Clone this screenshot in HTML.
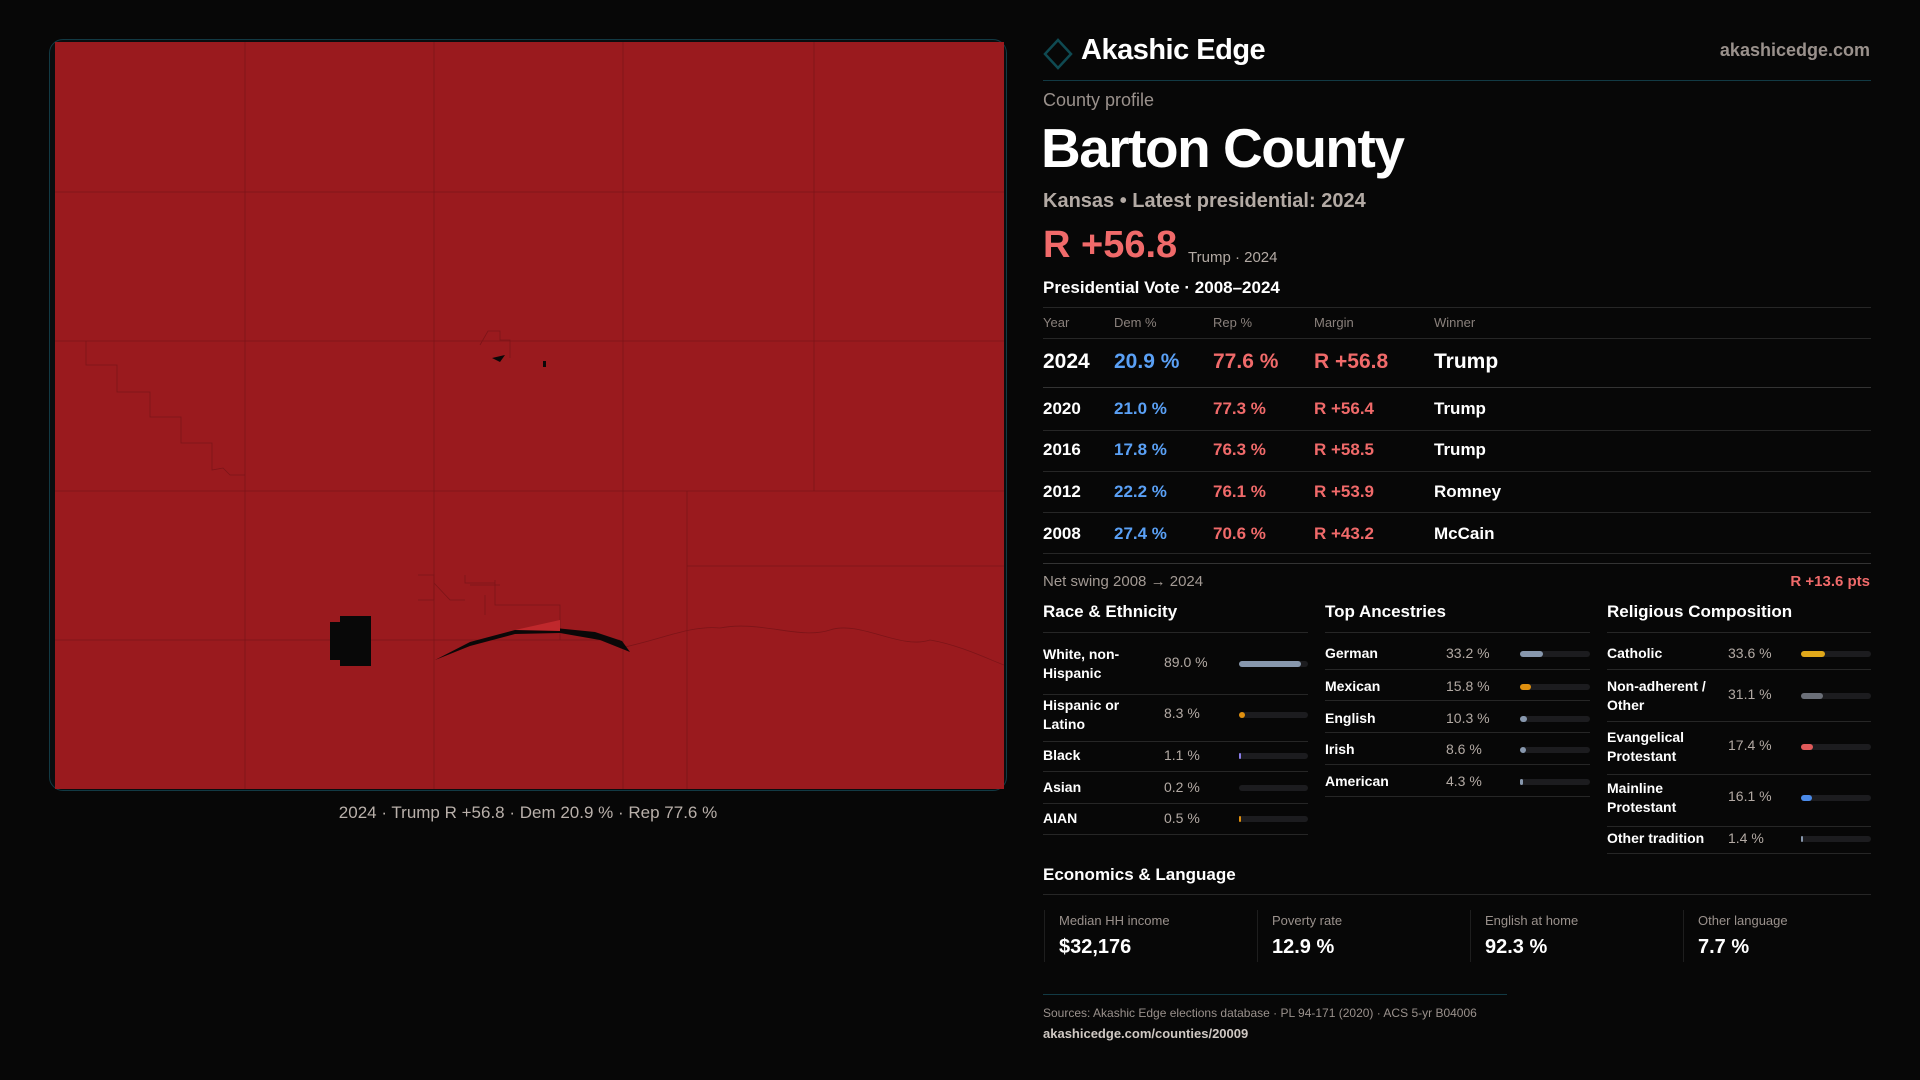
<!DOCTYPE html>
<html><head><meta charset="utf-8"><style>
*{margin:0;padding:0;box-sizing:border-box}
body{width:1920px;height:1080px;background:#070707;font-family:"Liberation Sans",sans-serif;color:#fff;position:relative;overflow:hidden}
.a{position:absolute;white-space:nowrap}
.hr{position:absolute;height:1px;background:#262626}
.g{color:#9a918c}
.bl{color:#5aa0f5}.rd{color:#f06a6a}
.bar{position:absolute;height:6px;border-radius:3px;background:#1c1c1f}
.bar i{position:absolute;left:0;top:0;height:6px;border-radius:3px}
</style></head><body>
<div class="a" style="left:49px;top:39px;width:958px;height:752px;border:1.5px solid #123a44;border-radius:14px;background:#0a0d0f"></div>
<svg class="a" style="left:0;top:0" width="1920" height="1080">
<path d="M55 42 H1004 V789 H55 Z" fill="#9a1a1e"/>
<g stroke="#7c1418" stroke-width="0.8" fill="none">
<path d="M245 42V789M434 42V789M623 42V491M814 42V491M623 491V789M687 491V789M55 192H1004M55 341H1004M55 491H1004M55 640H620M687 566H1004"/>
<path d="M86 341V365H117V392H150V417H181V443H212V470L223 468L230 475H245"/>
<path d="M620 648C660 640 690 625 720 628C760 620 800 640 830 630C860 620 900 650 930 640C960 645 990 660 1004 665"/>
<path d="M418 600H434M418 575H434V600M434 583L450 600H465M465 575V583H495M495 580V605H560V640M470 585H500M485 595V615"/>
<path d="M480 345L488 331H500V340H510V358"/>
</g>
<path d="M330 622H340V616H371V666H340V660H330Z" fill="#080808"/>
<path d="M435 660L470 646L515 634L560 633L600 640L630 652L622 641L595 632L555 628L515 630L470 642Z" fill="#0a0808"/>
<path d="M515 630L560 620L560 631Z" fill="#c0282c"/>
<path d="M492 358L505 355L500 362Z M543 361h3v6h-3z" fill="#0a0808"/>
<polygon points="1058,40 1071,54 1058,68 1045,54" fill="none" stroke="#0f4a52" stroke-width="2.5"/>
</svg>
<div class="a" style="left:0;width:1056px;top:803px;text-align:center;font-size:17px;color:#b9b0aa">2024 · Trump R +56.8 · Dem 20.9 % · Rep 77.6 %</div>

<div class="a" style="left:1081px;top:34px;font-size:29px;font-weight:bold;letter-spacing:-0.5px">Akashic Edge</div>
<div class="a g" style="left:1870px;top:40px;font-size:18px;font-weight:bold;transform:translateX(-100%)">akashicedge.com</div>
<div class="hr" style="left:1043px;width:828px;top:80px;background:#123a44"></div>
<div class="a g" style="left:1043px;top:90px;font-size:18px">County profile</div>
<div class="a" style="left:1041px;top:116px;font-size:55px;font-weight:bold;letter-spacing:-1.5px">Barton County</div>
<div class="a g" style="left:1043px;top:190px;font-size:20px;font-weight:bold;color:#b3aaa4">Kansas • Latest presidential: 2024</div>
<div class="a rd" style="left:1043px;top:224px;font-size:38px;font-weight:bold">R +56.8</div>
<div class="a g" style="left:1188px;top:249px;font-size:15px;color:#b3aaa4">Trump · 2024</div>
<div class="a" style="left:1043px;top:278px;font-size:17px;font-weight:bold">Presidential Vote · 2008–2024</div>
<div class="hr" style="left:1043px;width:828px;top:307px"></div>
<div class="a g" style="left:1043px;top:315px;font-size:13px;color:#8a817c">Year</div>
<div class="a g" style="left:1114px;top:315px;font-size:13px;color:#8a817c">Dem %</div>
<div class="a g" style="left:1213px;top:315px;font-size:13px;color:#8a817c">Rep %</div>
<div class="a g" style="left:1314px;top:315px;font-size:13px;color:#8a817c">Margin</div>
<div class="a g" style="left:1434px;top:315px;font-size:13px;color:#8a817c">Winner</div>
<div class="hr" style="left:1043px;width:828px;top:338px"></div>
<div class="a" style="left:1043px;top:350px;font-size:21px;font-weight:bold">2024</div>
<div class="a bl" style="left:1114px;top:350px;font-size:21px;font-weight:bold">20.9 %</div>
<div class="a rd" style="left:1213px;top:350px;font-size:21px;font-weight:bold">77.6 %</div>
<div class="a rd" style="left:1314px;top:350px;font-size:21px;font-weight:bold">R +56.8</div>
<div class="a" style="left:1434px;top:350px;font-size:21px;font-weight:bold">Trump</div>
<div class="hr" style="left:1043px;width:828px;top:387px;background:#333"></div>

<div class="a" style="left:1043px;top:399px;font-size:17px;font-weight:bold">2020</div><div class="a bl" style="left:1114px;top:399px;font-size:17px;font-weight:bold">21.0 %</div><div class="a rd" style="left:1213px;top:399px;font-size:17px;font-weight:bold">77.3 %</div><div class="a rd" style="left:1314px;top:399px;font-size:17px;font-weight:bold">R +56.4</div><div class="a" style="left:1434px;top:399px;font-size:17px;font-weight:bold">Trump</div>
<div class="hr" style="left:1043px;width:828px;top:430px"></div>
<div class="a" style="left:1043px;top:440px;font-size:17px;font-weight:bold">2016</div><div class="a bl" style="left:1114px;top:440px;font-size:17px;font-weight:bold">17.8 %</div><div class="a rd" style="left:1213px;top:440px;font-size:17px;font-weight:bold">76.3 %</div><div class="a rd" style="left:1314px;top:440px;font-size:17px;font-weight:bold">R +58.5</div><div class="a" style="left:1434px;top:440px;font-size:17px;font-weight:bold">Trump</div>
<div class="hr" style="left:1043px;width:828px;top:471px"></div>
<div class="a" style="left:1043px;top:482px;font-size:17px;font-weight:bold">2012</div><div class="a bl" style="left:1114px;top:482px;font-size:17px;font-weight:bold">22.2 %</div><div class="a rd" style="left:1213px;top:482px;font-size:17px;font-weight:bold">76.1 %</div><div class="a rd" style="left:1314px;top:482px;font-size:17px;font-weight:bold">R +53.9</div><div class="a" style="left:1434px;top:482px;font-size:17px;font-weight:bold">Romney</div>
<div class="hr" style="left:1043px;width:828px;top:512px"></div>
<div class="a" style="left:1043px;top:524px;font-size:17px;font-weight:bold">2008</div><div class="a bl" style="left:1114px;top:524px;font-size:17px;font-weight:bold">27.4 %</div><div class="a rd" style="left:1213px;top:524px;font-size:17px;font-weight:bold">70.6 %</div><div class="a rd" style="left:1314px;top:524px;font-size:17px;font-weight:bold">R +43.2</div><div class="a" style="left:1434px;top:524px;font-size:17px;font-weight:bold">McCain</div>
<div class="hr" style="left:1043px;width:828px;top:553px"></div>
<div class="hr" style="left:1043px;width:828px;top:563px;background:#333"></div>
<div class="a g" style="left:1043px;top:573px;font-size:15px;color:#a39a94">Net swing 2008 → 2024</div>
<div class="a rd" style="left:1870px;top:573px;font-size:15px;font-weight:bold;transform:translateX(-100%)">R +13.6 pts</div>

<div class="a" style="left:1043px;top:602px;font-size:17px;font-weight:bold">Race &amp; Ethnicity</div>
<div class="a" style="left:1325px;top:602px;font-size:17px;font-weight:bold">Top Ancestries</div>
<div class="a" style="left:1607px;top:602px;font-size:17px;font-weight:bold">Religious Composition</div>
<div class="hr" style="left:1043px;width:265px;top:632px"></div>
<div class="hr" style="left:1325px;width:265px;top:632px"></div>
<div class="hr" style="left:1607px;width:264px;top:632px"></div>

<div class="a" style="left:1043px;top:645px;font-size:14px;font-weight:bold;line-height:19px">White, non-<br>Hispanic</div><div class="a g" style="left:1164px;top:654px;font-size:14px;color:#b3aaa4">89.0 %</div><div class="bar" style="left:1239px;top:661px;width:69px"><i style="width:62px;background:#8797ad"></i></div>
<div class="hr" style="left:1043px;width:265px;top:694px"></div>
<div class="a" style="left:1043px;top:696px;font-size:14px;font-weight:bold;line-height:19px">Hispanic or<br>Latino</div><div class="a g" style="left:1164px;top:705px;font-size:14px;color:#b3aaa4">8.3 %</div><div class="bar" style="left:1239px;top:712px;width:69px"><i style="width:6px;background:#e0900f"></i></div>
<div class="hr" style="left:1043px;width:265px;top:741px"></div>
<div class="a" style="left:1043px;top:747px;font-size:14px;font-weight:bold">Black</div><div class="a g" style="left:1164px;top:747px;font-size:14px;color:#b3aaa4">1.1 %</div><div class="bar" style="left:1239px;top:753px;width:69px"><i style="width:2px;background:#8a7de8"></i></div>
<div class="hr" style="left:1043px;width:265px;top:771px"></div>
<div class="a" style="left:1043px;top:779px;font-size:14px;font-weight:bold">Asian</div><div class="a g" style="left:1164px;top:779px;font-size:14px;color:#b3aaa4">0.2 %</div><div class="bar" style="left:1239px;top:785px;width:69px"></div>
<div class="hr" style="left:1043px;width:265px;top:803px"></div>
<div class="a" style="left:1043px;top:810px;font-size:14px;font-weight:bold">AIAN</div><div class="a g" style="left:1164px;top:810px;font-size:14px;color:#b3aaa4">0.5 %</div><div class="bar" style="left:1239px;top:816px;width:69px"><i style="width:2px;background:#e0900f"></i></div>
<div class="hr" style="left:1043px;width:265px;top:834px"></div>

<div class="a" style="left:1325px;top:645px;font-size:14px;font-weight:bold">German</div><div class="a g" style="left:1446px;top:645px;font-size:14px;color:#b3aaa4">33.2 %</div><div class="bar" style="left:1520px;top:651px;width:70px"><i style="width:23px;background:#8797ad"></i></div>
<div class="hr" style="left:1325px;width:265px;top:669px"></div>
<div class="a" style="left:1325px;top:678px;font-size:14px;font-weight:bold">Mexican</div><div class="a g" style="left:1446px;top:678px;font-size:14px;color:#b3aaa4">15.8 %</div><div class="bar" style="left:1520px;top:684px;width:70px"><i style="width:11px;background:#e0900f"></i></div>
<div class="hr" style="left:1325px;width:265px;top:700px"></div>
<div class="a" style="left:1325px;top:710px;font-size:14px;font-weight:bold">English</div><div class="a g" style="left:1446px;top:710px;font-size:14px;color:#b3aaa4">10.3 %</div><div class="bar" style="left:1520px;top:716px;width:70px"><i style="width:7px;background:#8797ad"></i></div>
<div class="hr" style="left:1325px;width:265px;top:732px"></div>
<div class="a" style="left:1325px;top:741px;font-size:14px;font-weight:bold">Irish</div><div class="a g" style="left:1446px;top:741px;font-size:14px;color:#b3aaa4">8.6 %</div><div class="bar" style="left:1520px;top:747px;width:70px"><i style="width:6px;background:#8797ad"></i></div>
<div class="hr" style="left:1325px;width:265px;top:764px"></div>
<div class="a" style="left:1325px;top:773px;font-size:14px;font-weight:bold">American</div><div class="a g" style="left:1446px;top:773px;font-size:14px;color:#b3aaa4">4.3 %</div><div class="bar" style="left:1520px;top:779px;width:70px"><i style="width:3px;background:#8797ad"></i></div>
<div class="hr" style="left:1325px;width:265px;top:796px"></div>

<div class="a" style="left:1607px;top:645px;font-size:14px;font-weight:bold">Catholic</div><div class="a g" style="left:1728px;top:645px;font-size:14px;color:#b3aaa4">33.6 %</div><div class="bar" style="left:1801px;top:651px;width:70px"><i style="width:24px;background:#e0a81a"></i></div>
<div class="hr" style="left:1607px;width:264px;top:669px"></div>
<div class="a" style="left:1607px;top:677px;font-size:14px;font-weight:bold;line-height:19px">Non-adherent /<br>Other</div><div class="a g" style="left:1728px;top:686px;font-size:14px;color:#b3aaa4">31.1 %</div><div class="bar" style="left:1801px;top:693px;width:70px"><i style="width:22px;background:#6b6f78"></i></div>
<div class="hr" style="left:1607px;width:264px;top:721px"></div>
<div class="a" style="left:1607px;top:728px;font-size:14px;font-weight:bold;line-height:19px">Evangelical<br>Protestant</div><div class="a g" style="left:1728px;top:737px;font-size:14px;color:#b3aaa4">17.4 %</div><div class="bar" style="left:1801px;top:744px;width:70px"><i style="width:12px;background:#e05a5a"></i></div>
<div class="hr" style="left:1607px;width:264px;top:774px"></div>
<div class="a" style="left:1607px;top:779px;font-size:14px;font-weight:bold;line-height:19px">Mainline<br>Protestant</div><div class="a g" style="left:1728px;top:788px;font-size:14px;color:#b3aaa4">16.1 %</div><div class="bar" style="left:1801px;top:795px;width:70px"><i style="width:11px;background:#4a8ae8"></i></div>
<div class="hr" style="left:1607px;width:264px;top:826px"></div>
<div class="a" style="left:1607px;top:830px;font-size:14px;font-weight:bold">Other tradition</div><div class="a g" style="left:1728px;top:830px;font-size:14px;color:#b3aaa4">1.4 %</div><div class="bar" style="left:1801px;top:836px;width:70px"><i style="width:2px;background:#8797ad"></i></div>
<div class="hr" style="left:1607px;width:264px;top:853px"></div>

<div class="a" style="left:1043px;top:865px;font-size:17px;font-weight:bold">Economics &amp; Language</div>
<div class="hr" style="left:1043px;width:828px;top:894px"></div>
<div class="a" style="left:1044px;top:910px;width:1px;height:52px;background:#1e1e1e"></div>
<div class="a" style="left:1257px;top:910px;width:1px;height:52px;background:#1e1e1e"></div>
<div class="a" style="left:1470px;top:910px;width:1px;height:52px;background:#1e1e1e"></div>
<div class="a" style="left:1683px;top:910px;width:1px;height:52px;background:#1e1e1e"></div>
<div class="a g" style="left:1059px;top:913px;font-size:13px">Median HH income</div><div class="a" style="left:1059px;top:936px;font-size:20px;font-weight:bold">$32,176</div>
<div class="a g" style="left:1272px;top:913px;font-size:13px">Poverty rate</div><div class="a" style="left:1272px;top:936px;font-size:20px;font-weight:bold">12.9 %</div>
<div class="a g" style="left:1485px;top:913px;font-size:13px">English at home</div><div class="a" style="left:1485px;top:936px;font-size:20px;font-weight:bold">92.3 %</div>
<div class="a g" style="left:1698px;top:913px;font-size:13px">Other language</div><div class="a" style="left:1698px;top:936px;font-size:20px;font-weight:bold">7.7 %</div>
<div class="hr" style="left:1043px;width:464px;top:994px;background:#123a44"></div>
<div class="a g" style="left:1043px;top:1006px;font-size:12px">Sources: Akashic Edge elections database · PL 94-171 (2020) · ACS 5-yr B04006</div>
<div class="a" style="left:1043px;top:1026px;font-size:13px;color:#cfc8c3;font-weight:bold">akashicedge.com/counties/20009</div>
</body></html>
